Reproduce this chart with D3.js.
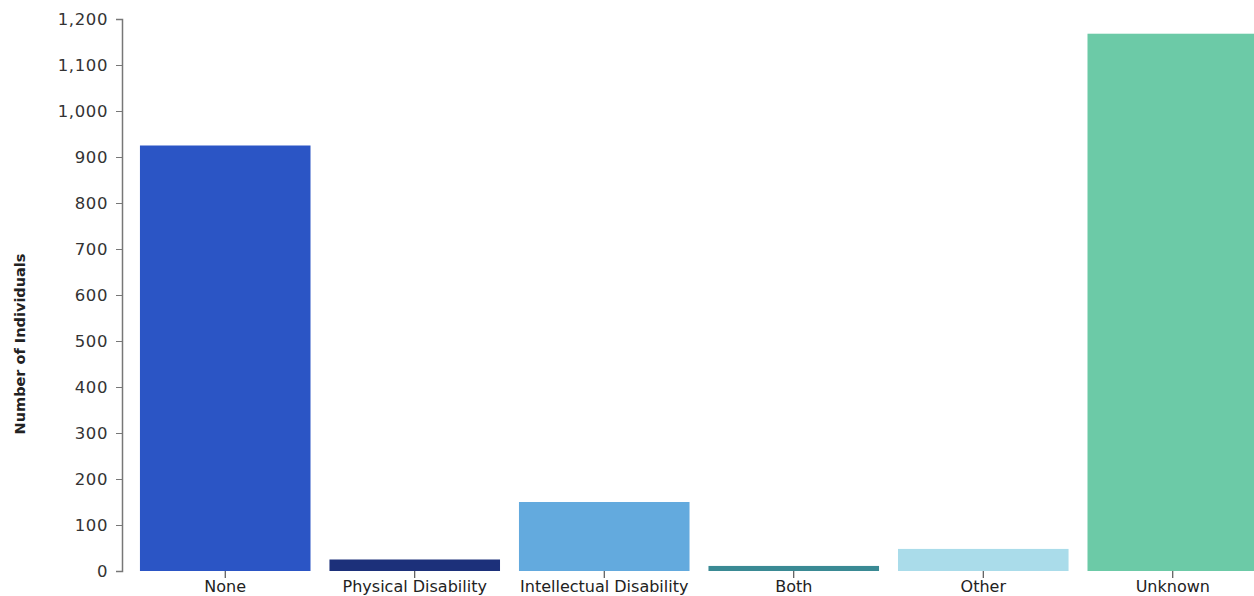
<!DOCTYPE html>
<html>
<head>
<meta charset="utf-8">
<script src="https://cdn.jsdelivr.net/npm/d3@7"></script>
<style>
  html, body { margin: 0; padding: 0; background: #fff; overflow: hidden; }
  svg { display: block; font-family: "DejaVu Sans", "Noto Sans", sans-serif; }
</style>
</head>
<body>
<svg id="chart" width="1254" height="596"></svg>
<script>
const categories = ["None", "Physical Disability", "Intellectual Disability", "Both", "Other", "Unknown"];
const values = [925, 25, 150, 11, 48, 1168];
const colors = ["#2b55c5", "#1c307a", "#63aade", "#3a8a94", "#aadcea", "#6ccaa7"];
const yTicks = [0, 100, 200, 300, 400, 500, 600, 700, 800, 900, 1000, 1100, 1200];
const yLabel = "Number of Individuals";

const data = categories.map((c, i) => ({ category: c, value: values[i], color: colors[i] }));

const svg = d3.select("#chart");
const margin = { left: 122 };
const x = d3.scaleBand().domain(categories).range([121, 1277]).paddingInner(0.1).paddingOuter(0.1);
const y = d3.scaleLinear().domain([0, 1200]).range([571, 19]);

svg.selectAll("rect.bar").data(data).join("rect")
  .attr("class", "bar")
  .attr("x", d => x(d.category))
  .attr("y", d => y(d.value))
  .attr("width", x.bandwidth())
  .attr("height", d => y(0) - y(d.value))
  .attr("fill", d => d.color);

const yAxis = svg.append("g")
  .attr("transform", `translate(${margin.left},0)`)
  .call(d3.axisLeft(y).tickValues(yTicks).tickFormat(d3.format(",")).tickSize(6).tickPadding(8));
yAxis.select(".domain").attr("stroke", "#777").attr("stroke-width", 1.5);
yAxis.selectAll(".tick line").attr("stroke", "#777");
yAxis.selectAll(".tick text").attr("fill", "#333")
  .style("font-family", "'DejaVu Sans', sans-serif")
  .style("font-size", "16.5px").style("letter-spacing", "0.6px");

const xAxis = svg.append("g")
  .attr("transform", `translate(0,${y(0)})`)
  .call(d3.axisBottom(x).tickSize(7).tickPadding(3));
xAxis.select(".domain").remove();
xAxis.selectAll(".tick line").attr("stroke", "#333");
xAxis.selectAll(".tick text").attr("fill", "#222")
  .style("font-family", "'DejaVu Sans', sans-serif")
  .style("font-size", "16px");

svg.append("text")
  .attr("transform", `translate(25,344) rotate(-90)`)
  .attr("text-anchor", "middle")
  .attr("fill", "#222")
  .style("font-family", "'DejaVu Sans', sans-serif")
  .style("font-size", "14.5px")
  .style("font-weight", "bold")
  .text(yLabel);
</script>
</body>
</html>
